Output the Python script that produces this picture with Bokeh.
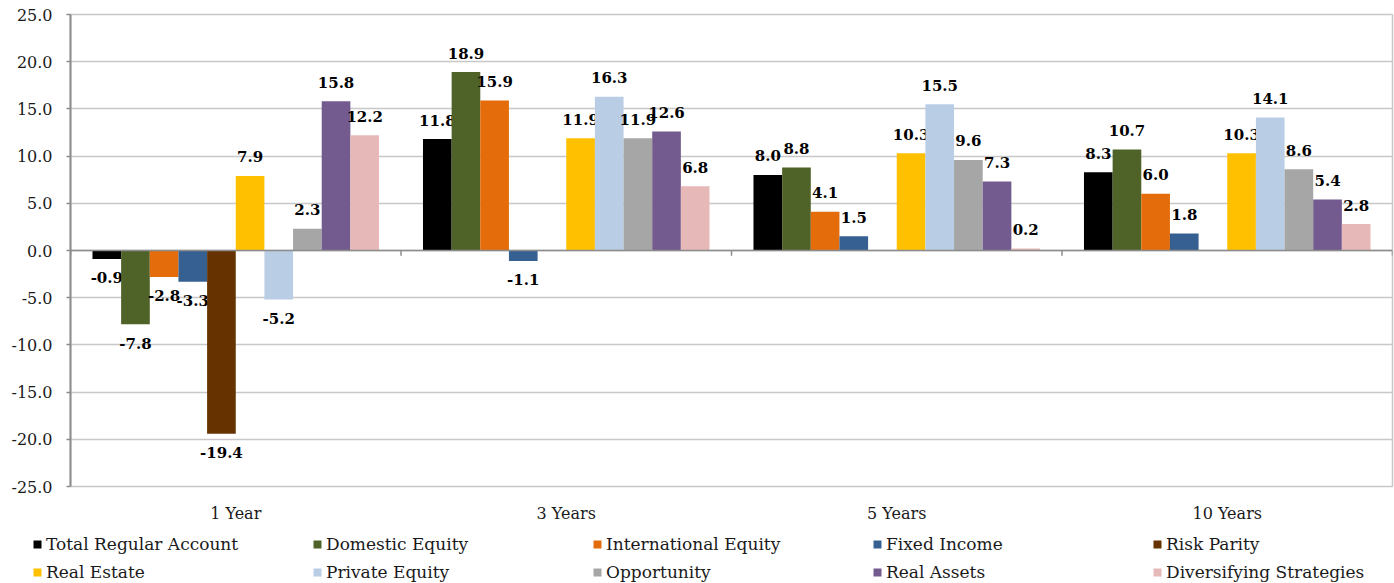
from bokeh.plotting import figure
from bokeh.layouts import column
from bokeh.models import (FactorRange, Range1d, ColumnDataSource, Legend, LegendItem,
                          SingleIntervalTicker, Span, NumeralTickFormatter)
from bokeh.transform import dodge
from bokeh.core.properties import value
from bokeh.embed import file_html
from bokeh.resources import INLINE

# ---------------- data ----------------
categories = ["1 Year", "3 Years", "5 Years", "10 Years"]
series_names = ["Total Regular Account", "Domestic Equity", "International Equity",
                "Fixed Income", "Risk Parity", "Real Estate", "Private Equity",
                "Opportunity", "Real Assets", "Diversifying Strategies"]
total_regular = [-0.9, 11.8, 8.0, 8.3]
domestic_equity = [-7.8, 18.9, 8.8, 10.7]
international_equity = [-2.8, 15.9, 4.1, 6.0]
fixed_income = [-3.3, -1.1, 1.5, 1.8]
risk_parity = [-19.4, None, None, None]
real_estate = [7.9, 11.9, 10.3, 10.3]
private_equity = [-5.2, 16.3, 15.5, 14.1]
opportunity = [2.3, 11.9, 9.6, 8.6]
real_assets = [15.8, 12.6, 7.3, 5.4]
diversifying = [12.2, 6.8, 0.2, 2.8]
series_values = [total_regular, domestic_equity, international_equity, fixed_income,
                 risk_parity, real_estate, private_equity, opportunity, real_assets,
                 diversifying]
colors = ["#000000", "#4F6228", "#E46C0A", "#376092", "#663300",
          "#FFC000", "#B9CDE5", "#A6A6A6", "#735A8F", "#E6B9B8"]

FONT = "DejaVu Serif"

p = figure(width=1394, height=525, output_backend="svg", toolbar_location=None,
           x_range=FactorRange(*categories, range_padding=0, factor_padding=0),
           y_range=Range1d(-25, 25),
           min_border_left=70, min_border_top=14, min_border_right=2, min_border_bottom=38)
p.frame_align = False
p.outline_line_color = "#c8c8c8"
p.outline_line_width = 1.5
p.background_fill_color = "white"

# grid
p.xgrid.grid_line_color = None
p.ygrid.grid_line_color = "#c8c8c8"
p.ygrid.grid_line_width = 1.5
p.ygrid.ticker = SingleIntervalTicker(interval=5)

# y axis
p.yaxis.ticker = SingleIntervalTicker(interval=5)
p.yaxis.formatter = NumeralTickFormatter(format="0.0")
p.yaxis.axis_line_color = "#8c8c8c"
p.yaxis.axis_line_width = 2
p.yaxis.major_tick_line_color = "#8c8c8c"
p.yaxis.major_tick_line_width = 1.5
p.yaxis.major_tick_out = 4
p.yaxis.major_tick_in = 0
p.yaxis.minor_tick_line_color = None
p.yaxis.major_label_standoff = 14
p.yaxis.major_label_text_font = FONT
p.yaxis.major_label_text_font_size = "16px"
p.yaxis.major_label_text_color = "#1a1a1a"

# x axis
p.xaxis.axis_line_color = None
p.xaxis.major_tick_line_color = None
p.xaxis.minor_tick_line_color = None
p.xaxis.major_label_standoff = 11
p.xaxis.major_label_text_font = FONT
p.xaxis.major_label_text_font_size = "16px"
p.xaxis.major_label_text_color = "#1a1a1a"

# zero line with ticks at category boundaries
p.add_layout(Span(location=0, dimension="width", line_color="#8c8c8c", line_width=1.5))
bounds = list(range(len(categories) + 1))
p.segment(x0=bounds, y0=[0] * len(bounds), x1=bounds, y1=[-0.55] * len(bounds),
          line_color="#8c8c8c", line_width=1.5)

# legend strip below the chart (no axes, frame fills the strip)
lf = figure(width=1394, height=58, output_backend="svg", toolbar_location=None,
            x_range=Range1d(0, 1), y_range=Range1d(0, 1),
            x_axis_location=None, y_axis_location=None,
            min_border_left=0, min_border_right=0, min_border_top=0, min_border_bottom=0)
lf.frame_align = False
lf.grid.visible = False
lf.outline_line_color = None

n = len(series_names)
w = 0.0867
items = []
for k, (name, vals, col) in enumerate(zip(series_names, series_values, colors)):
    cats = [c for c, v in zip(categories, vals) if v is not None]
    vv = [v for v in vals if v is not None]
    src = ColumnDataSource(dict(cat=cats, val=vv,
                                label=[f"{v:.1f}" for v in vv],
                                yoff=[-19 if v >= 0 else 19 for v in vv]))
    off = (k - (n - 1) / 2) * w
    p.vbar(x=dodge("cat", off, range=p.x_range), top="val", bottom=0, width=w,
           source=src, fill_color=col, line_color=None)
    p.text(x=dodge("cat", off, range=p.x_range), y="val", text="label", y_offset="yoff",
           source=src, text_font=value(FONT), text_font_style="bold",
           text_font_size="15px", text_align="center", text_baseline="middle",
           text_color="#000000")
    # off-range proxy bar, used only for the legend swatch
    lr = lf.vbar(x=[5], top=[1], width=0.1, fill_color=col, line_color=None)
    items.append(LegendItem(label=name, renderers=[lr]))

def make_legend(its, y):
    return Legend(items=its, orientation="horizontal", location=(32, y),
                  glyph_width=10, glyph_height=10, label_standoff=4, label_width=258,
                  label_height=20, spacing=8, padding=0, margin=0,
                  border_line_color=None, background_fill_alpha=0,
                  label_text_font=FONT, label_text_font_size="17px",
                  label_text_color="#1a1a1a")

lf.add_layout(make_legend(items[:5], 29))
lf.add_layout(make_legend(items[5:], 1))

layout = column(p, lf, spacing=0)
open("out.html", "w").write(file_html(layout, INLINE))
